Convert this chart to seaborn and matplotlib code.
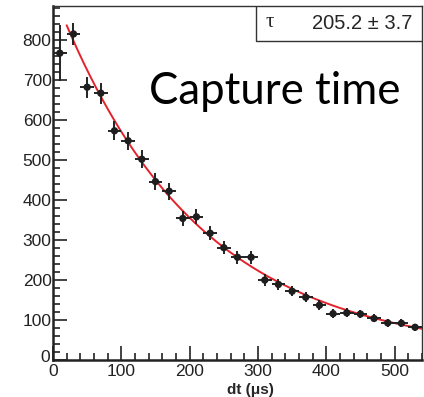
import seaborn as sns
import matplotlib.pyplot as plt
from matplotlib.ticker import MultipleLocator, FuncFormatter
from matplotlib.patches import Rectangle
import numpy as np
import pandas as pd

# histogram bins (bin centres, us) and counts
dt = [10, 30, 50, 70, 90, 110, 130, 150, 170, 190, 210, 230, 250, 270,
      290, 310, 330, 350, 370, 390, 410, 430, 450, 470, 490, 510, 530]
counts = [767, 815, 682, 667, 573, 548, 502, 446, 422, 354, 358, 317, 281, 257,
          257, 200, 189, 172, 157, 137, 116, 118, 115, 104, 93, 92, 82]
count_err = [70, 28, 26, 26, 24, 23, 22, 21, 21, 19, 19, 18, 17, 16,
             16, 14, 14, 13, 13, 12, 11, 11, 11, 10, 10, 10, 9]
bin_half = 10

# exponential fit: A * exp(-t / tau) + C
fit_amp = 908
fit_tau = 205.2
fit_tau_err = 3.7
fit_const = 13
fit_range = (20, 540)

sns.set_style("ticks")
plt.rcParams['font.family'] = ['Liberation Sans', 'DejaVu Sans']

fig = plt.figure(figsize=(4.24, 3.97), dpi=100)
ax = fig.add_axes([0.125, 0.093, 0.870, 0.892])

df = pd.DataFrame({"dt": dt, "counts": counts, "err": count_err})

t = np.linspace(fit_range[0], fit_range[1], 300)
curve = pd.DataFrame({"t": t, "f": fit_amp * np.exp(-t / fit_tau) + fit_const})
sns.lineplot(data=curve, x="t", y="f", color="#e3232c", lw=1.4, ax=ax)

ax.errorbar(df["dt"], df["counts"], xerr=bin_half, yerr=df["err"],
            fmt="none", ecolor="#222222", elinewidth=1.4, capsize=0)
sns.scatterplot(data=df, x="dt", y="counts", color="#1e1e1e", s=28,
                edgecolor="none", ax=ax, zorder=5)

ax.set_xlim(0, 540)
ax.set_ylim(0, 885)
ax.xaxis.set_major_locator(MultipleLocator(100))
ax.xaxis.set_minor_locator(MultipleLocator(20))
ax.yaxis.set_major_locator(MultipleLocator(100))
ax.yaxis.set_minor_locator(MultipleLocator(20))
# the y "0" is drawn separately below so it sits clear of the x "0"
ax.yaxis.set_major_formatter(FuncFormatter(lambda v, p: "" if v == 0 else f"{v:.0f}"))
ax.tick_params(which="both", direction="in", color="#222222",
               labelsize=12.5, labelcolor="#222222", width=1.2)
ax.tick_params(which="major", length=10)
ax.tick_params(which="minor", length=5)
ax.tick_params(axis="x", pad=3)
ax.tick_params(axis="y", pad=1)
for side in ["left", "bottom"]:
    ax.spines[side].set_linewidth(1.8)
    ax.spines[side].set_color("#222222")
for side in ["top", "right"]:
    ax.spines[side].set_linewidth(1.0)
    ax.spines[side].set_color("#333333")

ax.annotate("0", xy=(0, 0), xycoords="data", xytext=(-2, 2),
            textcoords="offset points", ha="right", va="center",
            fontsize=12.5, color="#222222", annotation_clip=False)

ax.set_ylabel("")
ax.set_xlabel("dt (μs)", fontsize=11, fontweight="bold", labelpad=0)
ax.xaxis.set_label_coords(0.535, -0.065)

# stats box
box = Rectangle((0.55, 0.9), 0.45, 0.1, transform=ax.transAxes,
                facecolor="white", edgecolor="#333333", lw=1.0, zorder=6)
ax.add_patch(box)
ax.text(0.575, 0.952, "τ", transform=ax.transAxes, fontsize=15,
        family=["Liberation Serif", "DejaVu Serif"], va="center", zorder=7)
ax.text(0.975, 0.95, f"{fit_tau} ± {fit_tau_err}", transform=ax.transAxes,
        fontsize=14.5, ha="right", va="center", zorder=7)

ax.text(0.26, 0.723, "Capture time", transform=ax.transAxes, fontsize=31.5,
        family=["Lato", "DejaVu Sans"], va="baseline", color="black")

fig.savefig("out.png", dpi=100)
